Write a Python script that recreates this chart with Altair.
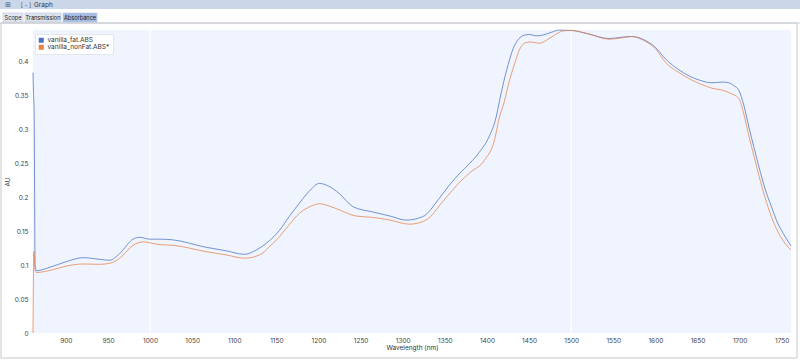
import altair as alt
import pandas as pd

# ---- data ----
fat_wl = [861, 861.6, 862.3, 863.5, 865, 881, 900.8, 920.5, 940.3, 952, 964, 979.8, 987.7,
          999.6, 1011, 1026.8, 1066.8, 1090, 1112, 1126, 1140, 1153.7, 1165, 1177.4, 1190, 1201,
          1212, 1224.8, 1240.6, 1264.3, 1285, 1303.9, 1323.6, 1343.4, 1355, 1367, 1380,
          1391, 1403, 1410.6, 1415, 1420, 1426.4, 1431, 1436.2, 1444.2, 1451, 1458, 1466,
          1476, 1486, 1500, 1520, 1545, 1560, 1572, 1585, 1600, 1612, 1628, 1640, 1652,
          1667, 1680, 1687, 1693, 1699, 1705, 1711, 1717, 1723, 1730, 1738, 1745, 1752, 1761]
fat_au = [0.383, 0.352, 0.33, 0.1, 0.0916, 0.0966, 0.105, 0.1108, 0.1083, 0.107, 0.117, 0.138, 0.1407,
          0.138, 0.138, 0.137, 0.126, 0.121, 0.1157, 0.122, 0.134, 0.151, 0.171, 0.191, 0.210, 0.220,
          0.216, 0.205, 0.186, 0.178, 0.172, 0.166, 0.171, 0.198, 0.217, 0.234, 0.250,
          0.266, 0.290, 0.316, 0.342, 0.37, 0.400, 0.418, 0.430, 0.438, 0.439, 0.437, 0.438,
          0.442, 0.4455, 0.445, 0.440, 0.433, 0.435, 0.436, 0.432, 0.420, 0.403, 0.387, 0.378, 0.372,
          0.368, 0.369, 0.368, 0.364, 0.357, 0.335, 0.303, 0.273, 0.244, 0.213, 0.185, 0.162, 0.146, 0.128]

nonfat_wl = [861, 862, 863.5, 865, 881, 900.8, 920.5, 940.3, 952, 964, 979.8, 991.6,
             1011, 1027, 1066.8, 1090, 1112, 1130, 1141, 1153.7, 1165, 1177.4, 1190, 1201,
             1212, 1224.8, 1244.6, 1264.3, 1285, 1308, 1327.6, 1347.3, 1357, 1367, 1380,
             1397, 1409, 1414.5, 1420.5, 1426, 1432.3, 1440, 1446, 1452, 1462, 1470, 1480,
             1490, 1500, 1520, 1545, 1560, 1572, 1585, 1600, 1612, 1628, 1640, 1652,
             1667, 1680, 1690, 1699, 1705, 1711, 1717, 1723, 1730, 1738, 1745, 1752, 1761]
nonfat_au = [0.0, 0.12, 0.092, 0.089, 0.092, 0.0985, 0.1015, 0.101, 0.1025, 0.110, 0.129, 0.134,
             0.130, 0.129, 0.1196, 0.115, 0.110, 0.1147, 0.126, 0.1417, 0.159, 0.176, 0.186, 0.190,
             0.187, 0.181, 0.172, 0.170, 0.166, 0.160, 0.166, 0.193, 0.207, 0.221, 0.236,
             0.254, 0.284, 0.316, 0.340, 0.368, 0.394, 0.420, 0.427, 0.428, 0.426, 0.430, 0.438,
             0.444, 0.445, 0.440, 0.432, 0.434, 0.436, 0.431, 0.418, 0.398, 0.383, 0.374, 0.367,
             0.360, 0.357, 0.352, 0.345, 0.322, 0.290, 0.260, 0.231, 0.200, 0.170, 0.150, 0.135, 0.122]

series_names = ["vanilla_fat.ABS", "vanilla_nonFat.ABS*"]
series_colors = ["#4a72c2", "#e8814a"]
x_ticks = list(range(900, 1751, 50))
y_ticks = [0, 0.05, 0.1, 0.15, 0.2, 0.25, 0.3, 0.35, 0.4]
major_lines = [1000, 1500]
tab_names = ["Scope", "Transmission", "Absorbance"]

FONT = "Inter"

df = pd.concat([
    pd.DataFrame({"wl": fat_wl, "au": fat_au, "series": series_names[0]}),
    pd.DataFrame({"wl": nonfat_wl, "au": nonfat_au, "series": series_names[1]}),
])

xscale = alt.Scale(domain=[861, 1761], nice=False, zero=False)
yscale = alt.Scale(domain=[0, 0.4456], nice=False)
cscale = alt.Scale(domain=series_names, range=series_colors)

xaxis = alt.Axis(values=x_ticks, format="d", title="Wavelength (nm)", labelFontSize=6.5,
                 titleFontSize=6.5, titleFontWeight="normal", labelColor="#444", titleColor="#333",
                 ticks=False, domain=False, labelPadding=4, titlePadding=1, labelOverlap=False,
                 grid=True, gridColor="white", gridDash=[1, 3], gridOpacity=0.9,
                 labelFont=FONT, titleFont=FONT)
yaxis = alt.Axis(values=y_ticks, format="~g", title="AU", labelFontSize=6.5, titleFontSize=6.5,
                 titleFontWeight="normal", labelColor="#444", titleColor="#333",
                 ticks=False, domain=False, labelPadding=5, titlePadding=4, labelOverlap=False,
                 grid=True, gridColor="white", gridDash=[1, 3], gridOpacity=0.9,
                 labelFont=FONT, titleFont=FONT)

one = pd.DataFrame({"k": [0]})

# ---- window chrome (header bar, tabs, frame) ----
header = alt.Chart(one).mark_rect(color="#cbd6e9").encode(
    x=alt.value(-33), x2=alt.value(767), y=alt.value(-30), y2=alt.value(-21))
header_line = alt.Chart(one).mark_rule(color="#c4cfdf").encode(
    x=alt.value(-33), x2=alt.value(767), y=alt.value(-7))
frame = alt.Chart(one).mark_rect(fill="transparent", stroke="#c8c8c8", strokeWidth=1).encode(
    x=alt.value(-32), x2=alt.value(764), y=alt.value(-7), y2=alt.value(328))
icon = alt.Chart(one).mark_text(fontSize=7, color="#555", font="DejaVu Sans").encode(
    x=alt.value(-25), y=alt.value(-25.5), text=alt.value("⊞"))
mini = alt.Chart(one).mark_text(fontSize=6, color="#555", font=FONT).encode(
    x=alt.value(-7), y=alt.value(-25.5), text=alt.value("[ - ]"))
gtitle = alt.Chart(one).mark_text(fontSize=6.5, color="#333", align="left", font=FONT).encode(
    x=alt.value(1), y=alt.value(-25.5), text=alt.value("Graph"))

tab_x = [(-30, -10), (-8, 28), (30, 64)]
tab_fill = ["#e2e8f1", "#dbe3ef", "#a5bde5"]
tabs = []
for (a, b), f, name in zip(tab_x, tab_fill, tab_names):
    tabs.append(alt.Chart(one).mark_rect(fill=f, stroke="#b9c6da", strokeWidth=0.6).encode(
        x=alt.value(a), x2=alt.value(b), y=alt.value(-17), y2=alt.value(-8)))
    tabs.append(alt.Chart(one).mark_text(fontSize=5.6, color="#222", font=FONT).encode(
        x=alt.value((a + b) / 2), y=alt.value(-12.3), text=alt.value(name)))

# ---- plot ----
bg = alt.Chart(one).mark_rect(color="#eff4fe").encode(
    x=alt.value(0), x2=alt.value(758), y=alt.value(0), y2=alt.value(303))

majors = alt.Chart(pd.DataFrame({"wl": major_lines})).mark_rule(
    color="white", strokeWidth=1.3).encode(x=alt.X("wl:Q", scale=xscale, axis=xaxis))

lines = alt.Chart(df).mark_line(strokeWidth=1, opacity=0.75, interpolate="monotone").encode(
    x=alt.X("wl:Q", scale=xscale, axis=xaxis),
    y=alt.Y("au:Q", scale=yscale, axis=yaxis),
    color=alt.Color("series:N", scale=cscale, legend=None),
    detail="series:N",
)

legend_pts = alt.Chart(df).mark_point(shape="square", filled=True, opacity=0).encode(
    x=alt.X("wl:Q", scale=xscale, axis=xaxis),
    y=alt.Y("au:Q", scale=yscale, axis=yaxis),
    fill=alt.Fill("series:N", scale=cscale, legend=alt.Legend(
        title=None, orient="none", legendX=2, legendY=4, padding=3,
        fillColor="white", strokeColor="#e3e8f0", symbolOpacity=1,
        symbolType="square", symbolSize=25, symbolStrokeWidth=0,
        labelFontSize=6.5, labelFont=FONT, labelColor="#333", rowPadding=0,
        labelOffset=3, cornerRadius=0)),
)

chart = alt.layer(
    header, header_line, *tabs, icon, mini, gtitle, frame,
    bg, majors, lines, legend_pts
).resolve_scale(fill="independent", color="independent").properties(
    width=758, height=303,
    padding={"left": 33, "top": 30, "right": 9, "bottom": 27},
    autosize=alt.AutoSizeParams(type="none"),
    background="white",
).configure_view(stroke=None)

chart.save("out.html", embed_options={"renderer": "svg", "actions": False})
